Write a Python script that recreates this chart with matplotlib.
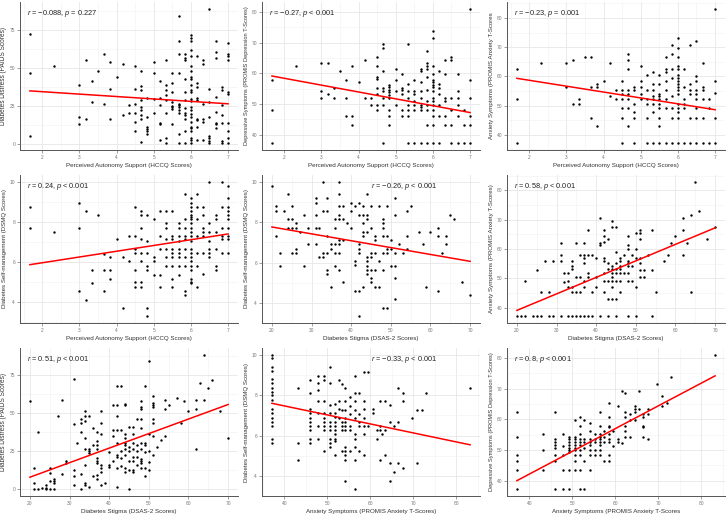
import numpy as np
import matplotlib
matplotlib.use("Agg")
import matplotlib.pyplot as plt
from matplotlib.ticker import MultipleLocator

plt.rcParams['font.family'] = ['Liberation Sans', 'DejaVu Sans']
plt.rcParams['mathtext.fontset'] = 'custom'
plt.rcParams['mathtext.rm'] = 'Liberation Sans'
plt.rcParams['mathtext.it'] = 'Liberation Sans:italic'

# data, grouped as (x, [y values at that x])
hccq_paids = [
    (1.67, [72.5, 46.6, 5]), (2.33, [51.5]), (3, [38.9, 17.8, 12.8]), (3.17, [55, 16.5]),
    (3.33, [41.3, 27.7]), (3.5, [47.7]), (3.67, [58.9, 26.4]), (3.83, [53.9, 36.3, 16.5]),
    (4, [44]), (4.17, [52.8, 18.7]), (4.33, [25.3, 20.2]),
    (4.5, [51.2, 36.3, 26.4, 20.2, 14.3, 8.8]),
    (4.67, [47.7, 37.8, 35.2, 28.6, 24.6, 22, 18.7, 16.3, 1.3]),
    (4.83, [29.9, 17.6, 11.4, 9.9, 8.4, 6.2]), (5, [53.7, 46.6, 29.5, 20.2]),
    (5.17, [41.3, 30.1, 25.3, 13.6, 12.8, 2.6]),
    (5.33, [55, 38.9, 35.2, 32.3, 28.6, 20.5, 4, 0.4]),
    (5.5, [46.6, 40, 34.1, 27.9, 25.1, 24.2, 23.1, 12.8]),
    (5.67, [84, 67.5, 58.9, 46.6, 26.4, 25.3, 24.2, 22, 20.2, 6.6, 0.4]),
    (5.83, [58.9, 56.5, 55.4, 42.7, 34.1, 28.6, 23.8, 20.2, 18.7, 16.3, 8.8, 0.4]),
    (6, [71.5, 70, 67.5, 61.6, 57.6, 51.2, 47.7, 44, 42.9, 38.9, 35.2, 33.9, 29.5, 28.1,
         24.2, 22, 19.8, 17.6, 14.1, 11.4, 10.3, 8.4, 4, 2.6, 0.4]),
    (6.17, [57.6, 40, 37.4, 29.9, 28.8, 16.5, 15.4, 11.4, 2.6]),
    (6.33, [55, 52.8, 26.4, 16.1, 14.3, 2.6]),
    (6.5, [89, 36.3, 27.7, 17.8, 5, 4, 1.8, 0.4]),
    (6.67, [67.5, 60.3, 56.5, 30.8, 21.3, 13.9, 12.8, 10.3]),
    (6.83, [37.4, 35.2, 25.3, 18.7, 13.9, 1.8, 0.4]),
    (7, [66.4, 58.9, 57.6, 55, 34.1, 33, 13.9, 8.8, 4, 0.4]),
]
hccq_dep = [
    (1.67, [57.7, 48.1, 37.2]), (2.33, [62.4]), (3, [63.4, 54.2, 52.1]), (3.17, [63.4, 53.3]),
    (3.33, [55.3, 52.1]), (3.5, [60.7]), (3.67, [57.7, 52.1, 46.1]), (3.83, [62.4, 46.1, 43.2]),
    (4, [57]), (4.17, [64.3, 52.1]), (4.33, [52.1, 49.6]),
    (4.5, [65.4, 62.4, 58.8, 58, 55.3, 53.3, 49.6, 48.1]),
    (4.67, [69.4, 68.3, 60.7, 55.3, 54.2, 52.1, 49.6, 37.2]),
    (4.83, [56.2, 55.5, 54.6, 53.9, 53, 52.1, 48.1, 46.1, 43.2]),
    (5, [61.5, 57.7, 54.2, 49.6]), (5.17, [59.7, 55.3, 54.6, 53.3, 48.1, 46.1]),
    (5.33, [69.4, 56.4, 54.2, 52.1, 49.6, 48.1, 46.1, 37.2]),
    (5.5, [57.7, 54.2, 53.3, 51.1, 49.6, 48.1, 37.2]),
    (5.67, [61.5, 60.7, 57, 54.2, 52.1, 49.6, 49, 48.1, 37.2]),
    (5.83, [67.3, 63.4, 62.4, 61.5, 58.8, 54.6, 51.1, 49.6, 48.1, 43.2, 37.2]),
    (6, [73.6, 71.4, 62.4, 59.7, 57.7, 57, 56.2, 55.5, 54.2, 52.1, 51.1, 49.6, 48.1, 46.1,
         43.2, 37.2]),
    (6.17, [60.7, 56.4, 55.3, 53.3, 49.6, 46.1, 37.2]),
    (6.33, [64.3, 59.7, 52.1, 51.1, 46.1, 43.2]),
    (6.5, [65.4, 64.3, 52.1, 48.1, 43.2, 37.2]),
    (6.67, [59.7, 54.2, 52.1, 49.6, 46.1, 37.2]),
    (6.83, [48.1, 43.2, 37.2]),
    (7, [81, 57.7, 52.1, 46.1, 43.2, 37.2]),
]
hccq_anx = [
    (1.67, [62.6, 52.1, 37.1]), (2.33, [64.7]), (3, [64.7, 56.4]), (3.17, [65.6, 50.7]),
    (3.33, [52.1, 50.7]), (3.5, [66.8]), (3.67, [66.8, 56.4, 45.9]), (3.83, [57.4, 56.4, 43.1]),
    (4, [58.5]), (4.17, [64.7, 53.2]), (4.33, [55.3, 52.1]),
    (4.5, [58.5, 55.3, 54.1, 52.1, 49.3, 45.9, 37.1]),
    (4.67, [67.7, 65.6, 62.6, 55.3, 54.1, 52.1, 49.3, 43.1]),
    (4.83, [56.4, 55.3, 50.7, 47.9, 45.9, 37.1]),
    (5, [63.6, 58.5, 56.4, 54.1, 52.1]),
    (5.17, [60.6, 55.3, 52.1, 50.7, 45.9, 37.1]),
    (5.33, [61.5, 57.4, 55.3, 53.2, 52.1, 50.7, 47.9, 37.1]),
    (5.5, [60.6, 57.4, 54.1, 53.2, 52.1, 50.7, 49.3, 45.9, 43.1, 37.1]),
    (5.67, [66.8, 62.6, 61.5, 58.5, 55.3, 52.1, 49.3, 37.1]),
    (5.83, [70.9, 67.7, 62.6, 59.4, 53.2, 49.3, 45.9, 37.1]),
    (6, [73, 69.8, 66.8, 63.6, 62.6, 60.6, 59.4, 58.5, 57.4, 56.4, 55.3, 54.1, 50.7, 49.3,
         47.9, 45.9, 37.1]),
    (6.17, [62.6, 56.4, 52.1, 50.7, 49.3, 37.1]),
    (6.33, [70.9, 57.4, 55.3, 54.1, 45.9, 37.1]),
    (6.5, [72, 60.3, 58.5, 55.3, 54.1, 52.1, 49.3, 45.9, 37.1]),
    (6.67, [64.7, 56.4, 55.3, 52.1, 45.9, 37.1]),
    (6.83, [52.1, 49.3, 37.1]),
    (7, [83.2, 58.5, 54.4, 45.9, 37.1]),
]
hccq_dsmq = [
    (1.67, [8.75, 7.7]), (2.33, [7.5]), (3, [8.95, 7.7, 4.58]), (3.17, [8.55, 4.13]),
    (3.33, [5.58, 4.97]), (3.5, [8.33]), (3.67, [6.42, 5.58, 4.57]), (3.83, [6.23, 5.58, 5.18]),
    (4, [7.13]), (4.17, [6.23, 3.72]), (4.33, [7.28, 6.03]),
    (4.5, [8.75, 7.28, 6.67, 6.45, 5.58, 5, 4.77]),
    (4.67, [8.55, 8.33, 7.7, 7.13, 6.45, 6.03, 5, 4.77]),
    (4.83, [8.33, 7.07, 6.45, 5.78, 5.58, 3.72, 3.3]),
    (5, [8.12, 6.23, 6.03, 5.38]), (5.17, [8.55, 7.28, 6.65, 5.38, 4.77]),
    (5.33, [8.55, 7.92, 7.7, 7.13, 6.65, 6.23, 5.78]),
    (5.5, [8.55, 7.28, 7.13, 6.65, 6.45, 6.23, 5.78, 5.18, 4.77]),
    (5.67, [7.92, 7.7, 7.28, 7.07, 6.65, 6.45, 6.23, 5.78, 5.38]),
    (5.83, [9.38, 8.12, 7.7, 7.28, 7.13, 6.65, 6.23, 5.78, 4.58, 4.37]),
    (6, [9.17, 8.95, 8.75, 8.55, 8.33, 8.22, 8.12, 7.92, 7.7, 7.48, 7.28, 7.07, 6.65, 6.45,
         6.23, 6.03, 5.78, 5.58, 5.18, 5, 4.97]),
    (6.17, [9.38, 8.75, 8.12, 7.28, 6.45, 5.78, 4.77]),
    (6.33, [8.75, 8.33, 7.7, 7.48, 7.28, 6.45, 5.4]),
    (6.5, [10, 7.92, 7.48, 7.07, 6.65, 6.45, 6.23]),
    (6.67, [8.33, 8.12, 7.48, 6.65, 5.78, 5.58]),
    (6.83, [10, 8.75, 7.7, 7.28, 7.13, 6.45]),
    (7, [9.8, 9.17, 8.75, 8.55, 8.33, 8.12, 7.7, 7.28, 7.13, 6.45]),
]
dsas_dsmq = [
    (20, [9.8]), (21, [8.78, 8.56, 7.32]), (22, [6.47, 5.82]), (23, [8.56]),
    (24, [9.39, 8.15, 7.73]), (25, [8.78, 8.15, 7.73, 6.47]), (26, [7.94, 7.73, 6.69, 6.47]),
    (27, [7.52]), (28, [8.35, 5.82]), (29, [7.73, 6.9]), (31, [9.19, 8.97, 8.35, 7.73, 6.9]),
    (32, [7.73, 6.27]), (33, [10, 8.56, 6.47, 6.27]), (34, [9.19, 8.56, 7.32, 6.47, 5.64, 5.43]),
    (35, [6.9, 6.69, 4.81]), (36, [8.15, 7.73, 6.9, 6.47, 5.82]),
    (37, [10, 9.39, 8.78, 8.35, 8.15, 7.1, 6.9, 6.47, 5.64]), (38, [8.78, 8.15, 7.1, 5.03]),
    (39, [7.94]), (40, [8.97, 8.56, 7.73]), (41, [8.78, 6.06, 5.87, 4.61]),
    (42, [8.97, 8.35, 6.9, 6.69, 6.47, 4.61, 3.34]), (43, [8.78, 8.35, 7.94, 7.52, 7.32, 4.81]),
    (44, [9.39, 8.35, 8.15, 7.52, 6.27, 6.06, 5.82, 5.64, 5.43]),
    (45, [8.78, 7.73, 6.47, 6.27, 5.64, 5.23, 5.03]), (46, [7.32, 7.1, 6.47, 5.64, 4.81]),
    (47, [8.78, 6.06, 4.81]), (48, [8.15, 7.94, 7.73, 7.32, 6.47, 5.64, 3.77]),
    (49, [8.78, 7.32, 6.69, 6.47, 3.77]), (50, [7.1, 6.69, 5.82]),
    (51, [9.19, 8.35, 6.47, 5.82, 5.23, 4.2]), (52, [6.9]), (53, [6.47]), (54, [8.56, 7.32, 6.69]),
    (55, [8.78]), (57, [7.52]), (58, [6.9]), (59, [4.81]), (60, [7.52]), (62, [7.73, 7.32, 4.61]),
    (63, [6.47]), (64, [7.32, 6.9]), (65, [8.35]), (66, [8.15]), (68, [5.03]), (70, [4.4]),
]
dsas_anx = [
    (20, [37.1]), (21, [37.1]), (22, [49, 37.1]), (24, [37.1]), (25, [52.8, 37.1]),
    (26, [45.5, 37.1]), (27, [56]), (28, [45.5, 37.1]), (29, [56, 37.1]),
    (31, [62.2, 58, 56, 37.1]), (32, [51.8, 48.6]), (33, [51.8, 49, 47.2, 37.1]),
    (34, [56, 54.1, 53.2, 47.2, 45.5, 37.1]), (35, [62.2, 50.5, 45.5, 37.1]),
    (36, [58, 50.5, 45.5, 37.1]), (37, [62.2, 58, 57, 55.3, 49, 47.2, 37.1]),
    (38, [66.4, 58, 51.8, 50.5, 37.1]), (39, [58, 45.5, 37.1]), (40, [57, 50.5, 47.2]),
    (41, [70.7, 62.2, 61.3, 37.1]), (42, [66.4, 64.5, 62.4, 57, 56, 51.8, 49, 45.5]),
    (43, [63.3, 55.3, 53.2, 49, 42.9, 37.1]),
    (44, [69.5, 67.6, 54.1, 53.2, 51.8, 50.5, 49, 47.2, 42.9]),
    (45, [67.6, 59.1, 55.3, 53.2, 51.8, 49, 42.9, 37.1]),
    (46, [57, 56, 54.1, 53.2, 51.8, 49, 45.5]), (47, [58, 51.8]),
    (48, [64.5, 61.3, 60.1, 56, 55.3, 54.1, 51.8, 49, 37.1]), (49, [58, 54.1, 49]),
    (50, [65.4, 60.1, 57, 47.2, 37.1]), (51, [66.4, 65.4, 63.3, 57, 55.3, 52.8, 50.5]),
    (52, [52.8, 50.5]), (53, [58]), (54, [66.4, 52.8, 37.1]), (55, [45.5]), (57, [56]),
    (58, [58]), (59, [62.2]), (60, [64.5]), (62, [70.7, 66.4, 58]), (63, [62.2]),
    (64, [71.7, 45.5]), (65, [82.9]), (66, [72.8]), (68, [63.3]), (70, [67.6]),
]
dsas_paids = [
    (20, [57.5]), (21, [14, 3.9, 0]), (22, [37.6, 0]), (23, [0.9]), (24, [2.6, 0.9, 0]),
    (25, [14, 10.5, 5.2, 0]), (26, [6.6, 5.2, 3.9, 0]), (27, [47.7]), (28, [58.6, 10]),
    (29, [18.8, 17.5]), (31, [72.4, 42.6, 12.7, 8.7, 2.6]), (32, [30.2]),
    (33, [46.1, 43.7, 37.6, 10, 0]), (34, [51.2, 47.7, 45, 33.7, 26.2, 16.2, 3.9, 2.6]),
    (35, [47.7, 26.2, 24.9, 23.6, 1.3]), (36, [39.8, 28.9, 9]),
    (37, [37.6, 31.5, 28.9, 26.2, 20.6, 18.8, 17.5, 9.6, 6.6]),
    (38, [51.2, 43.7, 36.3, 16.2, 14, 11.4, 2.6]), (39, [3.9]), (40, [24.3, 16.2, 14.9]),
    (41, [54.9, 38.5, 35, 18.8]), (42, [67.4, 54.9, 47.7, 38.5, 30.2, 22.5, 21.4, 14, 1.3]),
    (43, [67.4, 38.5, 24.9, 20.6, 15.3]),
    (44, [56, 54.9, 36.3, 33.7, 30.2, 28.9, 26.2, 22.5, 14, 11.4]),
    (45, [41.1, 27.6, 24.9, 18.8, 12.7, 0]),
    (46, [41.1, 36.3, 30.2, 26.2, 21.4, 18.8, 12.7, 11.4]),
    (47, [46.1, 28.9, 24.9, 21.4, 16.2]),
    (48, [57.5, 53.8, 52.7, 46.1, 39.8, 30.2, 26.2, 19.9, 18.8, 17.5, 14]),
    (49, [67.4, 30.2, 28.9, 24.3, 14, 8.7]), (50, [83.8, 36.3, 24.9, 17.7, 12.7]),
    (51, [61.2, 56.4, 54.9, 53.8, 46.1, 43.7, 35, 22.5]), (52, [27.6]), (53, [32.4]),
    (54, [58.6, 52.5, 35]), (55, [54.9]), (57, [59.9]), (58, [43.7]), (59, [57.5]),
    (60, [51.2]), (62, [58.6, 52.5, 26.2]), (63, [69.8]), (64, [88.1, 58.6]), (65, [66.3]),
    (66, [71.3]), (68, [51.2]), (70, [33.7]),
]
anx_dsmq = [
    (37.1, [10, 9.82, 9.4, 9.2, 8.78, 8.58, 8.38, 8.18, 8, 7.75, 7.32, 7.1, 6.89, 6.69, 6.48,
            5.85, 5.64]),
    (43.2, [8.38, 5.64, 4.81]),
    (46, [8.76, 8.13, 7.32, 7.1, 6.89, 6.69, 6.48, 6.26, 5.85, 5.64]),
    (47.9, [8.96, 8.58, 8.26, 7.72, 7.1, 6.48, 5.85]),
    (49.3, [8.96, 8.76, 7.72, 7.1, 6.89, 6.69, 6.48, 6.26, 5.22]),
    (50.7, [9.4, 8.58, 7.52, 7.1, 6.69, 6.48, 6.26, 5.85, 5.64, 5.44]),
    (51.8, [7.55, 7.1, 6.91, 6.69, 6.48, 6.26, 6.07, 5.85, 5.74, 5.02]),
    (52.8, [8.76, 7.72, 7.32, 6.89]), (53.3, [8.54, 7.29, 6.69, 6.48, 6.26, 5.22]),
    (54.1, [8.38, 7.72, 7.29, 6.89, 6.69, 6.48, 6.26, 5.42, 5.22, 5.02, 4.81, 3.75]),
    (55.3, [7.92, 7.49, 7.09, 6.48, 6.26, 5.22]),
    (56.4, [8.96, 8.13, 7.72, 7.29, 6.89, 6.07, 5.85, 5.42, 4.81, 3.35]),
    (57.4, [8.13, 7.09, 6.69, 6.48, 5.22]), (58.5, [9.17, 7.72, 7.32, 6.89, 6.48, 6.07, 5.02]),
    (59.4, [9.17, 6.48]), (60.6, [7.32, 7.1]), (61.5, [6.26, 5.85]),
    (62.2, [7.72, 6.48, 6.26, 4.81]), (62.6, [6.07]), (63.3, [7.72, 6.26, 5.02]),
    (64.5, [7.52, 6.69, 4.64, 3.75]), (65.6, [6.48, 4.2]), (66.4, [8.35, 6.69, 4.64]),
    (67.6, [8.13, 7.72, 4.4]), (69.8, [6.89]), (70.9, [7.29, 4.64]), (72, [7.29]),
    (73, [8.13]), (83.2, [8.35]),
]
anx_dep = [
    (37.1, [62.5, 54.3, 48.3, 46.3, 43.5, 37.2]), (43.2, [55.3, 49.9, 43.5]),
    (46, [62.5, 53.5, 52.6, 51.7, 50.8, 48.3, 46.3, 37.2]),
    (47.9, [55.3, 51.3, 48.3, 43.5, 37.2]),
    (49.3, [54.3, 53.5, 52.6, 51.7, 50.8, 49.9, 49.2, 43.5, 37.2]),
    (50.7, [59.9, 54.3, 53.5, 52.6, 51.7, 50.8, 49.9, 48.3, 46.3, 43.5]),
    (51.8, [60.9, 58, 55.3, 53.5, 52.6, 51.7, 49.9, 48.3, 43.5, 37.2]),
    (52.8, [59.9, 53.5, 52.6, 50.8, 46.3, 37.2]),
    (54.1, [58.8, 56.3, 53.5, 52.6, 51.7, 49.9, 48.3, 43.5]),
    (55.3, [55.3, 53.5, 52.6, 49.9, 48.3]),
    (56.4, [62.5, 58, 55.3, 54.3, 53.5, 52.6, 51.7, 49.9, 48.3]),
    (57.4, [56.3, 54.3, 52.6, 46.3]),
    (58.5, [65.4, 60.9, 58, 57.4, 55.3, 53.5, 52.6, 48.3, 46.3]),
    (59.4, [56.3, 51.3]), (60.6, [64.5, 53.5, 52.6]), (61.5, [69.3, 52.4]),
    (62.2, [68.5, 62.5, 60.9, 58, 56.3, 54.3]), (63.3, [61.6, 59.9, 54.3]),
    (64.5, [64.5, 63.5, 62.5, 59.9]), (65.6, [69.3, 63.5]),
    (66.4, [61.6, 60.9, 58, 57.4, 54.3]), (67.6, [63.5, 61.6, 53.5]), (69.8, [71.4]),
    (70.9, [67.5, 64.5]), (72, [65.4]), (73, [73.7]), (83.2, [81.1]),
]

# fitted lines as shown in the reference: (intercept, slope)
fit_hccq_paids = (37.56, -1.595)
fit_hccq_dep = (62.83, -2.233)
fit_hccq_anx = (62.72, -2.017)
fit_hccq_dsmq = (5.39, 0.287)
fit_dsas_dsmq = (8.44, -0.034)
fit_dsas_anx = (27.86, 0.562)
fit_dsas_paids = (-11.14, 0.952)
fit_anx_dsmq = (9.25, -0.0445)
fit_anx_dep = (12.48, 0.742)

lab_hccq = "Perceived Autonomy Support (HCCQ Scores)"
lab_dsas = "Diabetes Stigma (DSAS-2 Scores)"
lab_paids = "Diabetes Distress (PAIDS Scores)"
lab_dep = "Depressive Symptoms (PROMIS Depression T-Scores)"
lab_anx = "Anxiety Symptoms (PROMIS Anxiety T-Scores)"
lab_anx_cut = "Anxiety Symptoms (PROMIS Anxiety T-Scores"
lab_dsmq = "Diabetes Self-management (DSMQ Scores)"

# y-label font sizes so their lengths match the reference
ylab_size = {lab_paids: 4.7, lab_dep: 4.1}

panels = [
    (hccq_paids, fit_hccq_paids, lab_hccq, lab_paids, "$r$ = \u22120.088, $p$ = 0.227", 1, 25, 0.03),
    (hccq_dep, fit_hccq_dep, lab_hccq, lab_dep, "$r$ = \u22120.27, $p$ < 0.001", 1, 10, 0.03),
    (hccq_anx, fit_hccq_anx, lab_hccq, lab_anx_cut, "$r$ = \u22120.23, $p$ = 0.001", 1, 10, 0.03),
    (hccq_dsmq, fit_hccq_dsmq, lab_hccq, lab_dsmq, "$r$ = 0.24, $p$ < 0.001", 1, 2, 0.03),
    (dsas_dsmq, fit_dsas_dsmq, lab_dsas, lab_dsmq, "$r$ = \u22120.26, $p$ < 0.001", 10, 2, 0.5),
    (dsas_anx, fit_dsas_anx, lab_dsas, lab_anx, "$r$ = 0.58, $p$ < 0.001", 10, 10, 0.03),
    (dsas_paids, fit_dsas_paids, lab_dsas, lab_paids, "$r$ = 0.51, $p$ < 0.001", 10, 25, 0.03),
    (anx_dsmq, fit_anx_dsmq, lab_anx, lab_dsmq, "$r$ = \u22120.33, $p$ < 0.001", 10, 2, 0.5),
    (anx_dep, fit_anx_dep, lab_anx_cut, lab_dep, "$r$ = 0.8, $p$ < 0.001", 10, 10, 0.03),
]

fig = plt.figure(figsize=(7.28, 5.16), dpi=100)
W, H = 728.0, 516.0
col_left = [20, 262, 507]
row_top = [2, 175, 348]
aw, ah = 218, 148

for i, (grp, fit, xl, yl, note, xs, ys, nx) in enumerate(panels):
    r, c = divmod(i, 3)
    ax = fig.add_axes([col_left[c] / W, 1 - (row_top[r] + ah) / H, aw / W, ah / H])
    x = np.concatenate([[gx] * len(gy) for gx, gy in grp])
    y = np.concatenate([gy for gx, gy in grp])
    ax.scatter(x, y, s=3, color='black', linewidths=0, zorder=3)
    a, b = fit
    xx = np.array([x.min(), x.max()])
    ax.plot(xx, a + b * xx, color='red', lw=1.1, zorder=4)
    ax.margins(0.05)
    ax.xaxis.set_major_locator(MultipleLocator(xs))
    ax.yaxis.set_major_locator(MultipleLocator(ys))
    ax.xaxis.set_minor_locator(MultipleLocator(xs / 2))
    ax.yaxis.set_minor_locator(MultipleLocator(ys / 2))
    ax.grid(which='major', color='#e6e6e6', lw=0.6, zorder=0)
    ax.grid(which='minor', color='#f2f2f2', lw=0.4, zorder=0)
    ax.set_axisbelow(True)
    for s in ['top', 'right']:
        ax.spines[s].set_visible(False)
    for s in ['left', 'bottom']:
        ax.spines[s].set_color('#555555')
        ax.spines[s].set_linewidth(0.7)
    ax.tick_params(which='major', length=2, width=0.5, color='#777777', labelsize=3.5,
                   labelcolor='#777777', pad=1.5)
    ax.tick_params(which='minor', length=0)
    ax.set_xlabel(xl, fontsize=4.5, color='#333333', labelpad=2.5)
    ax.set_ylabel(yl, fontsize=ylab_size.get(yl, 4.4), color='#333333', labelpad=2)
    ax.text(nx, 0.92, note, transform=ax.transAxes, fontsize=5.3, color='#222222',
            va='center', ha='left')

fig.savefig("out.png", dpi=100)
